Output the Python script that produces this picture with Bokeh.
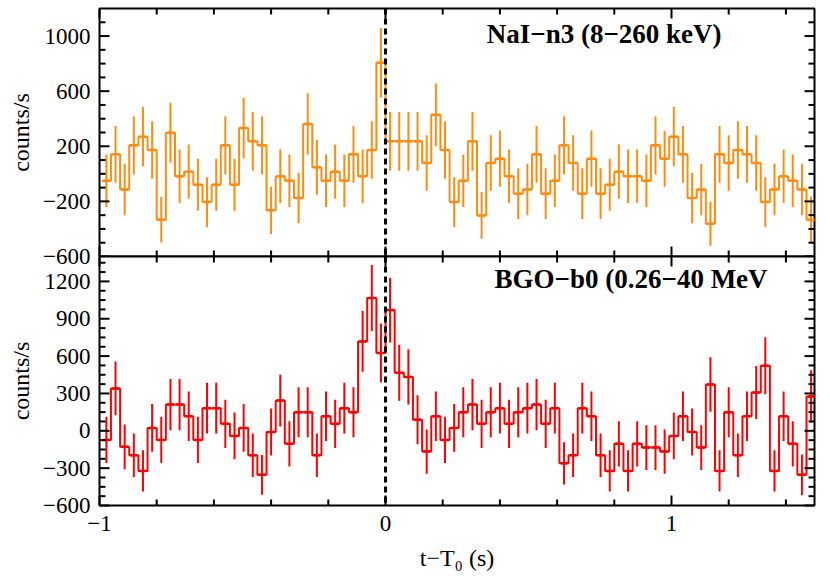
import numpy as np
from bokeh.plotting import figure
from bokeh.models import LinearAxis, FixedTicker, Span, Label, Range1d
from bokeh.layouts import column
from bokeh.embed import file_html
from bokeh.resources import INLINE

# time binning (s)
bin_start = -0.992
bin_width = 0.032

# NaI-n3 (8-260 keV) light curve, counts/s
nai_counts = [-50, 142, -113, 207, 270, 173, -333, 299, -18, 16, -79, -205, -79, 207, -79, 333,
              236, 207, -265, -18, -50, -176, 362, 47, -50, 16, -50, 142, -18, 173, 806,
              236, 236, 236, 236, 79, 428, 173, -205, -50, 236, -302, 79, 110, -18, -144, -113,
              142, -144, -50, 207, 79, -144, 110, -144, -79, 16, -18, -18, -50, 207, 110, 270,
              142, -176, -113, -362, 142, 79, 173, 142, 79, -205, -113, -18, -50, -113, -333]
nai_err = [191, 206, 187, 211, 215, 208, 165, 217, 194, 196, 189, 180, 189, 211, 189, 220,
           213, 211, 172, 194, 191, 182, 222, 199, 191, 196, 191, 206, 194, 208, 252,
           213, 213, 213, 213, 201, 227, 208, 180, 191, 213, 170, 201, 203, 194, 184, 187,
           206, 184, 191, 211, 201, 184, 203, 184, 189, 196, 194, 194, 191, 211, 203, 215,
           206, 182, 187, 160, 206, 201, 208, 206, 201, 180, 187, 194, 191, 187, 168]

# BGO-b0 (0.26-40 MeV) light curve, counts/s
bgo_counts = [-73, 340, -129, -196, -322, 23, -73, 211, 211, 117, -73, 182, 182, 56, -41, 23,
              -196, -354, -9, 243, -105, 149, 149, -196, 117, 56, 182, 149, 718, 1066, 624,
              970, 466, 433, 88, -167, 117, -73, 23, 149, 211, 56, 149, 182, 56, 149, 182,
              211, 56, 182, -261, -196, 182, 117, -196, -322, -105, -322, -105, -135, -135, -167,
              -41, 117, -9, -135, 372, -322, 149, -196, 117, 308, 522, -322, 117, -105, -354, 275]
bgo_err = [185, 216, 180, 175, 166, 192, 185, 206, 206, 199, 185, 204, 204, 194, 187, 192,
           175, 160, 189, 208, 182, 201, 201, 175, 199, 194, 204, 201, 244, 265, 237,
           260, 225, 222, 197, 177, 199, 185, 192, 201, 206, 194, 201, 204, 194, 201, 204,
           206, 194, 204, 170, 175, 204, 199, 175, 166, 182, 166, 182, 180, 180, 177,
           187, 199, 189, 180, 218, 166, 201, 175, 199, 213, 229, 166, 199, 182, 163, 211]

x_major = [-1, 0, 1]
x_minor = [-0.8, -0.6, -0.4, -0.2, 0.2, 0.4, 0.6, 0.8, 1.2, 1.4]
nai_yticks = [-600, -200, 200, 600, 1000]
nai_yminor = [-500, -400, -300, -100, 0, 100, 300, 400, 500, 700, 800, 900, 1100]
bgo_yticks = [-600, -300, 0, 300, 600, 900, 1200]
bgo_yminor = [-525, -450, -375, -225, -150, -75, 75, 150, 225, 375, 450, 525,
              675, 750, 825, 975, 1050, 1125, 1275, 1350]

FONT = "Liberation Serif"
X0, X1 = -1.0, 1.5
FW = 715

n = len(nai_counts)
edges = bin_start + bin_width * np.arange(n + 1)
centers = edges[:-1] + bin_width / 2


def minus(t):
    return ("\u2212" + str(-t)) if t < 0 else str(t)


def add_ticks(p, y0, y1, fh, ymaj, ymin):
    dx = (X1 - X0) / FW
    dy = (y1 - y0) / fh
    e = 0.5  # start half a pixel inside the frame
    xa0, xa1, xb0, xb1, ya0, ya1, yb0, yb1 = [], [], [], [], [], [], [], []
    for ticks, L in ((x_major, 10), (x_minor, 6)):
        for t in ticks:
            xa0 += [t, t]
            xa1 += [t, t]
            ya0 += [y0 + e * dy, y1 - e * dy]
            ya1 += [y0 + L * dy, y1 - L * dy]
    for ticks, L in ((ymaj, 10), (ymin, 6)):
        for t in ticks:
            xa0 += [X0 + e * dx, X1 - e * dx]
            xa1 += [X0 + L * dx, X1 - L * dx]
            ya0 += [t, t]
            ya1 += [t, t]
    p.segment(x0=xa0, y0=ya0, x1=xa1, y1=ya1, line_color="#000000", line_width=2,
              level="overlay")


def panel(counts, errs, color, yr, yticks, yminor, label, lx, ly, bottom, fh):
    p = figure(frame_width=FW, frame_height=fh, x_range=Range1d(X0, X1), y_range=Range1d(*yr),
               output_backend="svg", toolbar_location=None,
               x_axis_location=None, y_axis_location=None,
               min_border_left=99, min_border_right=6,
               min_border_top=(12 if bottom else 8), min_border_bottom=(50 if bottom else 12))
    p.grid.grid_line_color = None
    p.outline_line_color = "black"
    p.outline_line_width = 2
    p.background_fill_color = "white"
    if bottom:
        p.border_fill_color = None
        p.styles = {"margin-top": "-24px"}
    else:
        p.border_fill_color = "white"

    left = LinearAxis(ticker=FixedTicker(ticks=yticks), axis_label="counts/s")
    left.axis_line_color = None
    left.major_tick_in = 0
    left.major_tick_out = 0
    left.minor_tick_line_color = None
    left.major_label_overrides = {t: minus(t) for t in yticks}
    left.major_label_text_font = FONT
    left.major_label_text_font_size = "23px"
    left.major_label_text_color = "black"
    left.major_label_standoff = 9
    left.axis_label_text_font = FONT
    left.axis_label_text_font_size = "24px"
    left.axis_label_text_font_style = "normal"
    left.axis_label_text_color = "black"
    left.axis_label_standoff = 6
    p.add_layout(left, "left")

    if bottom:
        b = LinearAxis(ticker=FixedTicker(ticks=x_major), axis_label="t\u2212T\u2080 (s)")
        b.axis_line_color = None
        b.major_tick_in = 0
        b.major_tick_out = 0
        b.minor_tick_line_color = None
        b.major_label_overrides = {t: minus(t) for t in x_major}
        b.major_label_text_font = FONT
        b.major_label_text_font_size = "23px"
        b.major_label_text_color = "black"
        b.major_label_standoff = 10
        b.axis_label_text_font = FONT
        b.axis_label_text_font_size = "24px"
        b.axis_label_text_font_style = "normal"
        b.axis_label_text_color = "black"
        b.axis_label_standoff = 11
        p.add_layout(b, "below")

    c = np.array(counts, dtype=float)
    e = np.array(errs, dtype=float)
    p.step(x=edges, y=np.append(c, c[-1]), mode="after", line_color=color, line_width=2)
    p.segment(x0=centers, y0=c - e, x1=centers, y1=c + e, line_color=color, line_width=2)
    p.scatter(x=centers, y=c, size=7, marker="dash", line_color=color, line_width=2.5)

    add_ticks(p, yr[0], yr[1], fh, yticks, yminor)

    p.add_layout(Span(location=0, dimension="height", line_color="black",
                      line_dash="6 4", line_width=3))
    p.add_layout(Label(x=lx, y=ly, text=label, text_align="right", text_baseline="middle",
                       text_font=FONT, text_font_size="27px", text_font_style="bold",
                       text_color="black"))
    return p


top_p = panel(nai_counts, nai_err, "#ff8c10", (-600, 1200), nai_yticks, nai_yminor,
              "NaI\u2212n3 (8\u2212260 keV)", 1.175, 1012, False, 248)
bot_p = panel(bgo_counts, bgo_err, "#ff0000", (-600, 1400), bgo_yticks, bgo_yminor,
              "BGO\u2212b0 (0.26\u221240 MeV", 1.336, 1218, True, 249)

layout = column(top_p, bot_p, spacing=0)
open("out.html", "w").write(file_html(layout, INLINE))
